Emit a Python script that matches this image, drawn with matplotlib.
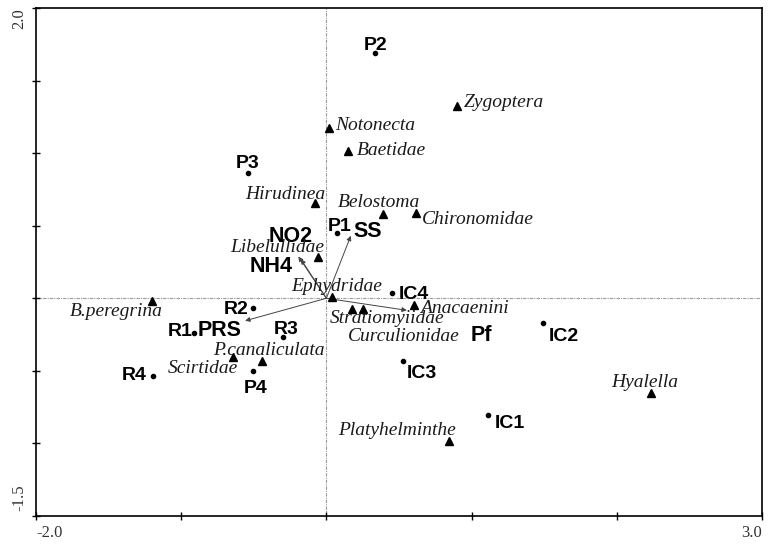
import matplotlib
matplotlib.use("Agg")
import matplotlib.pyplot as plt

# ---- data ----
site_names = ["P1", "P2", "P3", "P4", "R1", "R2", "R3", "R4", "IC1", "IC2", "IC3", "IC4"]
site_x = [0.07, 0.336, -0.54, -0.503, -0.91, -0.505, -0.30, -1.196, 1.112, 1.49, 0.53, 0.45]
site_y = [0.45, 1.69, 0.864, -0.50, -0.24, -0.07, -0.27, -0.537, -0.806, -0.17, -0.434, 0.036]

species_names = ["Notonecta", "Baetidae", "Zygoptera", "Hirudinea", "Belostoma", "Chironomidae",
                 "Libelullidae", "Ephydridae", "Stratiomyiidae", "Curculionidae", "Anacaenini",
                 "B.peregrina", "P.canaliculata", "Scirtidae", "Platyhelminthe", "Hyalella"]
species_x = [0.02, 0.147, 0.90, -0.078, 0.39, 0.618, -0.055, 0.04, 0.177, 0.25, 0.60,
             -1.20, -0.445, -0.64, 0.846, 2.236]
species_y = [1.172, 1.016, 1.325, 0.656, 0.582, 0.587, 0.284, 0.009, -0.072, -0.072, -0.044,
             -0.019, -0.43, -0.407, -0.985, -0.652]

env_names = ["SS", "NO2", "NH4", "PRS", "Pf"]
env_x = [0.168, -0.193, -0.176, -0.56, 0.554]
env_y = [0.431, 0.288, 0.270, -0.155, -0.083]

x_limits = (-2.0, 3.0)
y_limits = (-1.5, 2.0)

# ---- label placement (offset in pixels, ha) ----
site_lab = {
    "P2": (0, 3, "center"), "P3": (0, 5.3, "center"), "P1": (3.3, 1.6, "center"),
    "R2": (-5, -6, "right"), "R1": (-1.6, -2.7, "right"), "R3": (3.5, 3.7, "center"),
    "R4": (-6, -3.3, "right"), "P4": (2.3, -21.7, "center"), "IC4": (6.6, -6, "left"),
    "IC2": (6, -18.4, "left"), "IC3": (3.4, -16.6, "left"), "IC1": (7.3, -12.6, "left"),
}
env_lab = {
    "SS": (2.3, -1, "left"), "NO2": (-7.8, 14.7, "center"), "NH4": (-8.7, -12.7, "right"),
    "PRS": (-3.3, -15, "right"), "Pf": (64, -30.3, "left"),
}
sp_lab = {
    "Notonecta": (5.7, -1.7, "left"), "Baetidae": (9.3, -4, "left"),
    "Zygoptera": (6.6, -1, "left"), "Hirudinea": (10, 4, "right"),
    "Belostoma": (-4, 6.7, "center"), "Chironomidae": (5.7, -11, "left"),
    "Libelullidae": (5.7, 5.3, "right"), "Ephydridae": (4.3, 5.6, "center"),
    "Stratiomyiidae": (-22, -14.3, "left"), "Curculionidae": (-14.4, -32.7, "left"),
    "Anacaenini": (6.7, -8.3, "left"), "B.peregrina": (10.4, -15.4, "right"),
    "P.canaliculata": (7.5, 6, "center"), "Scirtidae": (5, -15.6, "right"),
    "Platyhelminthe": (7, 6.7, "right"), "Hyalella": (-6.7, 6, "center"),
}

fig = plt.figure(figsize=(7.7, 5.44), dpi=100)
ax = fig.add_axes([36 / 770, 28 / 544, 726 / 770, 508 / 544])
ax.set_xlim(*x_limits)
ax.set_ylim(*y_limits)

# reference lines
ax.axhline(0, color="#9a9a9a", lw=0.8, ls=(0, (3, 1, 1, 1)), zorder=1)
ax.axvline(0, color="#9a9a9a", lw=0.8, ls=(0, (3, 1, 1, 1)), zorder=1)

# arrows
for n, x, y in zip(env_names, env_x, env_y):
    ax.annotate("", xy=(x, y), xytext=(0, 0),
                arrowprops=dict(arrowstyle="-|>", lw=0.7, color="#444444",
                                mutation_scale=7, shrinkA=0, shrinkB=0), zorder=2)
    dx, dy, ha = env_lab[n]
    ax.annotate(n, xy=(x, y), xytext=(dx, dy), textcoords="offset pixels",
                ha=ha, va="baseline", fontsize=15.5, fontweight="bold",
                family="Liberation Sans", color="black", zorder=4)

# species
ax.plot(species_x, species_y, ls="none", marker="^", color="black", ms=6, zorder=3)
for n, x, y in zip(species_names, species_x, species_y):
    dx, dy, ha = sp_lab[n]
    ax.annotate(n, xy=(x, y), xytext=(dx, dy), textcoords="offset pixels",
                ha=ha, va="baseline", fontsize=14, fontstyle="italic",
                family="Liberation Serif", color="#1a1a1a", zorder=4)

# sites
ax.plot(site_x, site_y, ls="none", marker="o", color="black", ms=3, zorder=3)
for n, x, y in zip(site_names, site_x, site_y):
    dx, dy, ha = site_lab[n]
    ax.annotate(n, xy=(x, y), xytext=(dx, dy), textcoords="offset pixels",
                ha=ha, va="baseline", fontsize=14, fontweight="bold",
                family="Liberation Sans", color="black", zorder=4)

# axes styling
for s in ax.spines.values():
    s.set_linewidth(1.2)
ax.set_xticks([-2, -1, 0, 1, 2, 3])
ax.set_yticks([-1.5, -1.0, -0.5, 0, 0.5, 1.0, 1.5, 2.0])
ax.tick_params(direction="inout", length=6, width=1.0, labelbottom=False, labelleft=False)

tfont = dict(family="Liberation Serif", fontsize=12, color="#333333")
ax.text(0.0, -0.018, "-2.0", transform=ax.transAxes, ha="left", va="top", **tfont)
ax.text(1.0, -0.018, "3.0", transform=ax.transAxes, ha="right", va="top", **tfont)
ax.text(-0.012, 1.0, "2.0", transform=ax.transAxes, ha="right", va="top", rotation=90, **tfont)
ax.text(-0.012, 0.01, "-1.5", transform=ax.transAxes, ha="right", va="bottom", rotation=90, **tfont)

fig.savefig("out.png", dpi=100)
